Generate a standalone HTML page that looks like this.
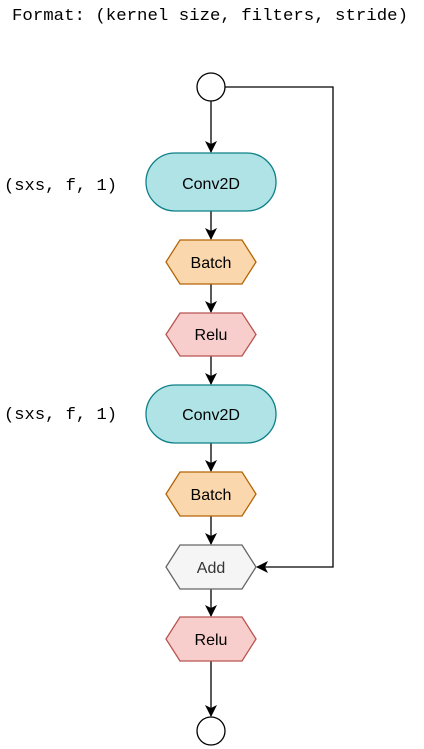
<!DOCTYPE html>
<html><head><style>body{margin:0;background:#fff}</style></head><body>
<svg width="424" height="749" xmlns="http://www.w3.org/2000/svg" style="display:block">
<defs><marker id="a" markerWidth="12" markerHeight="12" refX="11" refY="6" orient="auto" markerUnits="userSpaceOnUse"><path d="M0,0 L12,6 L0,12 L3,6 z" fill="#000"/></marker></defs>
<g font-family="Liberation Mono, monospace" font-size="17" fill="#000">
<text x="12" y="20" textLength="396" lengthAdjust="spacingAndGlyphs">Format: (kernel size, filters, stride)</text>
<text x="4" y="190" textLength="113" lengthAdjust="spacingAndGlyphs">(sxs, f, 1)</text>
<text x="4" y="419" textLength="113" lengthAdjust="spacingAndGlyphs">(sxs, f, 1)</text>
</g>
<g stroke="#000" stroke-width="1.3" fill="none">
<line x1="211" y1="101" x2="211" y2="152" marker-end="url(#a)"/>
<line x1="211" y1="211" x2="211" y2="239" marker-end="url(#a)"/>
<line x1="211" y1="284" x2="211" y2="312" marker-end="url(#a)"/>
<line x1="211" y1="356" x2="211" y2="384" marker-end="url(#a)"/>
<line x1="211" y1="443" x2="211" y2="471" marker-end="url(#a)"/>
<line x1="211" y1="516" x2="211" y2="544" marker-end="url(#a)"/>
<line x1="211" y1="589" x2="211" y2="616" marker-end="url(#a)"/>
<line x1="211" y1="661" x2="211" y2="716" marker-end="url(#a)"/>
<polyline points="225,87 333,87 333,567 257,567" marker-end="url(#a)"/>
</g>
<circle cx="211" cy="87" r="14" fill="#fff" stroke="#000" stroke-width="1.3"/>
<circle cx="211" cy="731" r="14" fill="#fff" stroke="#000" stroke-width="1.3"/>
<rect x="146" y="153" width="130" height="58" rx="29" fill="#b0e3e6" stroke="#0e8088" stroke-width="1.3"/>
<rect x="146" y="385" width="130" height="58" rx="29" fill="#b0e3e6" stroke="#0e8088" stroke-width="1.3"/>
<polygon points="166,262 180,240 242,240 256,262 242,284 180,284" fill="#fad7ac" stroke="#b46504" stroke-width="1.3"/>
<polygon points="166,334.5 180,313 242,313 256,334.5 242,356 180,356" fill="#f8cecc" stroke="#b85450" stroke-width="1.3"/>
<polygon points="166,494 180,472 242,472 256,494 242,516 180,516" fill="#fad7ac" stroke="#b46504" stroke-width="1.3"/>
<polygon points="166,567 180,545 242,545 256,567 242,589 180,589" fill="#f5f5f5" stroke="#666" stroke-width="1.3"/>
<polygon points="166,639 180,617 242,617 256,639 242,661 180,661" fill="#f8cecc" stroke="#b85450" stroke-width="1.3"/>
<g font-family="Liberation Sans, sans-serif" font-size="16" text-anchor="middle" fill="#000">
<text x="211" y="189">Conv2D</text>
<text x="211" y="268">Batch</text>
<text x="211" y="340">Relu</text>
<text x="211" y="420">Conv2D</text>
<text x="211" y="500">Batch</text>
<text x="211" y="573" fill="#333">Add</text>
<text x="211" y="645">Relu</text>
</g>
</svg>
</body></html>
